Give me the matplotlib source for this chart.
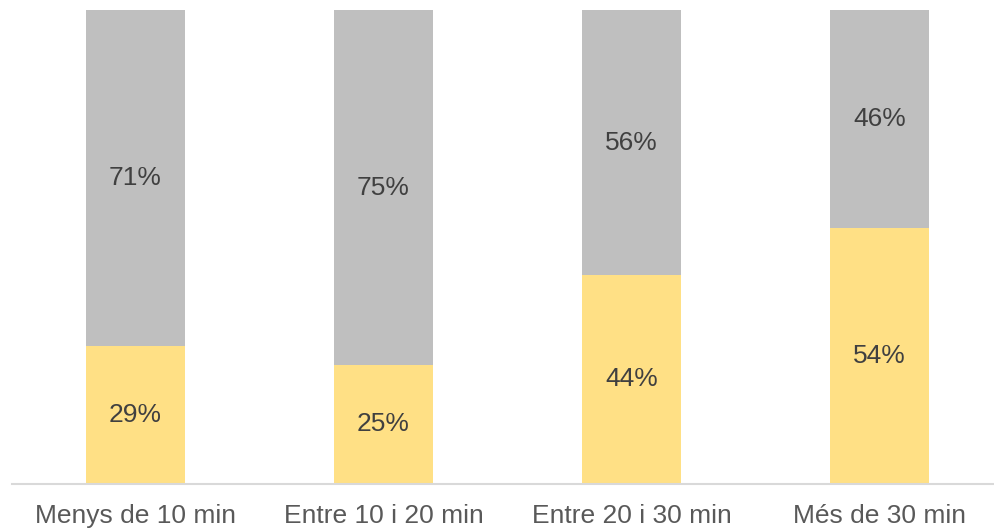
import matplotlib
matplotlib.use("Agg")
import matplotlib.pyplot as plt
import numpy as np

plt.rcParams['font.family'] = ['Liberation Sans', 'DejaVu Sans']

categories = ['Menys de 10 min', 'Entre 10 i 20 min', 'Entre 20 i 30 min', 'Més de 30 min']
share_yes = [29, 25, 44, 54]
share_no = [71, 75, 56, 46]

colors = {'yes': '#FFE085', 'no': '#BFBFBF', 'axis': '#D9D9D9',
          'label': '#404040', 'tick': '#595959'}

fig = plt.figure(figsize=(9.94, 5.29), dpi=100)
ax = fig.add_axes([11.5 / 994, 45.5 / 529, 992 / 994, 473.5 / 529])

x = np.arange(len(categories))
width = 0.4
ax.bar(x, share_yes, width, color=colors['yes'], zorder=2)
ax.bar(x, share_no, width, bottom=share_yes, color=colors['no'], zorder=2)

for xi, a, b in zip(x, share_yes, share_no):
    ax.text(xi, a / 2, f'{a}%', ha='center', va='center', fontsize=19, color=colors['label'])
    ax.text(xi, a + b / 2, f'{b}%', ha='center', va='center', fontsize=19, color=colors['label'])

ax.set_xlim(-0.5, 3.5)
ax.set_ylim(0, 100)
ax.set_xticks(x)
ax.set_xticklabels(categories, fontsize=19, color=colors['tick'])
ax.tick_params(axis='x', length=0, pad=15)
ax.set_yticks([])
for side in ['top', 'right', 'left']:
    ax.spines[side].set_visible(False)
ax.spines['bottom'].set_color(colors['axis'])
ax.spines['bottom'].set_linewidth(1.5)

fig.savefig('out.png', dpi=100, facecolor='white')
